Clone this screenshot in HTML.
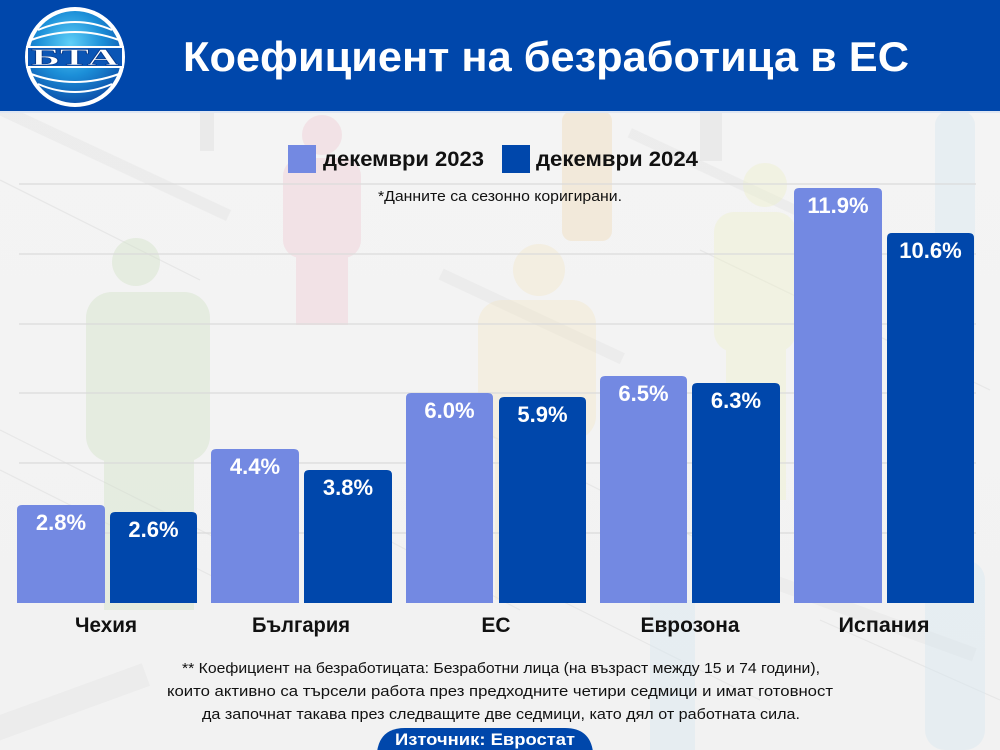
<!DOCTYPE html>
<html><head><meta charset="utf-8"><style>
html,body{margin:0;padding:0;background:#f3f3f3;}
svg{display:block;}
text{font-family:"Liberation Sans","Noto Sans CJK SC",sans-serif;}
</style></head><body>
<svg width="1000" height="750" viewBox="0 0 1000 750" xmlns="http://www.w3.org/2000/svg">
<defs>
<radialGradient id="lg" cx="0.45" cy="0.35" r="0.7">
<stop offset="0" stop-color="#5fd0f8"/><stop offset="0.5" stop-color="#1c8fd8"/><stop offset="1" stop-color="#0a4aa6"/>
</radialGradient>
<linearGradient id="bg" x1="0" y1="0" x2="0" y2="1">
<stop offset="0" stop-color="#f4f4f4"/><stop offset="1" stop-color="#f2f2f2"/>
</linearGradient>
</defs>
<rect x="0" y="0" width="1000" height="750" fill="url(#bg)"/>
<!-- faint newspaper texture -->
<g fill="#e8e8e8" opacity="0.6">
<rect x="-20" y="150" width="260" height="12" transform="rotate(25 100 160)"/>
<rect x="430" y="310" width="200" height="12" transform="rotate(25 530 320)"/>
<rect x="-10" y="690" width="160" height="24" transform="rotate(-20 70 700)"/>
<rect x="760" y="610" width="220" height="14" transform="rotate(20 870 620)"/>
<rect x="620" y="170" width="200" height="10" transform="rotate(25 720 176)"/>
</g>
<g stroke="#e4e4e4" stroke-width="1.2" fill="none" opacity="0.8">
<path d="M0 430 L260 560"/><path d="M0 470 L240 590"/><path d="M480 430 L700 540"/>
<path d="M560 600 L760 700"/><path d="M820 620 L1000 700"/><path d="M700 250 L990 390"/>
<path d="M0 180 L200 280"/><path d="M350 520 L520 610"/>
</g>
<!-- faint figures -->
<g opacity="0.4">
<g fill="#cfe0c4"><circle cx="136" cy="262" r="24"/><rect x="86" y="292" width="124" height="170" rx="26"/><rect x="104" y="440" width="90" height="170"/></g>
<g fill="#efc9d2"><circle cx="322" cy="135" r="20"/><rect x="283" y="158" width="78" height="100" rx="18"/><rect x="296" y="240" width="52" height="85"/></g>
<g fill="#f2e6c6"><circle cx="539" cy="270" r="26"/><rect x="478" y="300" width="118" height="140" rx="24"/><rect x="495" y="420" width="84" height="180"/></g>
<g fill="#eef0c8"><circle cx="765" cy="185" r="22"/><rect x="714" y="212" width="82" height="140" rx="20"/><rect x="726" y="340" width="60" height="160"/></g>
<g fill="#f0d9b5"><rect x="562" y="111" width="50" height="130" rx="10"/></g>
<g fill="#d4e6ef"><rect x="935" y="111" width="40" height="250" rx="14"/><rect x="650" y="600" width="45" height="150"/><rect x="925" y="560" width="60" height="190" rx="20"/></g>
<g fill="#dcdcdc"><rect x="700" y="111" width="22" height="50"/><rect x="200" y="111" width="14" height="40"/></g>
</g>
<!-- header -->
<rect x="0" y="0" width="1000" height="111" fill="#0047ab"/>
<rect x="0" y="111" width="1000" height="2" fill="#dfe6f2"/>
<!-- logo -->
<circle cx="75" cy="57" r="50" fill="#ffffff"/>
<circle cx="75" cy="57" r="46" fill="url(#lg)"/>
<g stroke="#ffffff" stroke-width="2" fill="none">
<path d="M38 30 Q75 14 112 30"/><path d="M31 40 Q75 24 119 40"/>
<path d="M31 74 Q75 90 119 74"/><path d="M38 84 Q75 100 112 84"/>
</g>
<rect x="27" y="47" width="96" height="20" fill="#0a55b5" stroke="#ffffff" stroke-width="2"/>
<text x="75" y="65" text-anchor="middle" font-weight="bold" font-size="23" fill="#ffffff" stroke="#0a3c8c" stroke-width="0.6" textLength="88" lengthAdjust="spacingAndGlyphs" style="font-family:'Liberation Serif',serif">БТА</text>
<!-- title -->
<text x="183" y="71" font-size="42" font-weight="bold" fill="#ffffff" textLength="726" lengthAdjust="spacingAndGlyphs">Коефициент на безработица в ЕС</text>
<!-- legend -->
<rect x="288" y="145" width="28" height="28" fill="#7389e2"/>
<text x="323" y="166" font-size="21" font-weight="bold" fill="#111" textLength="161" lengthAdjust="spacingAndGlyphs">декември 2023</text>
<rect x="502" y="145" width="28" height="28" fill="#0047ab"/>
<text x="536" y="166" font-size="21" font-weight="bold" fill="#111" textLength="162" lengthAdjust="spacingAndGlyphs">декември 2024</text>
<text x="378" y="201" font-size="15" fill="#111" textLength="244" lengthAdjust="spacingAndGlyphs">*Данните са сезонно коригирани.</text>
<!-- gridlines -->
<g stroke="#dadada" stroke-width="1.2">
<line x1="19" y1="184" x2="976" y2="184"/><line x1="19" y1="254" x2="976" y2="254"/>
<line x1="19" y1="324" x2="976" y2="324"/><line x1="19" y1="393" x2="976" y2="393"/>
<line x1="19" y1="463" x2="976" y2="463"/><line x1="19" y1="533" x2="976" y2="533"/>
</g>
<!-- bars -->
<g>
<path d="M17 603 V510 Q17 505 22 505 H100 Q105 505 105 510 V603 Z" fill="#7389e2"/>
<path d="M110 603 V517 Q110 512 115 512 H192 Q197 512 197 517 V603 Z" fill="#0047ab"/>
<path d="M211 603 V454 Q211 449 216 449 H294 Q299 449 299 454 V603 Z" fill="#7389e2"/>
<path d="M304 603 V475 Q304 470 309 470 H387 Q392 470 392 475 V603 Z" fill="#0047ab"/>
<path d="M406 603 V398 Q406 393 411 393 H488 Q493 393 493 398 V603 Z" fill="#7389e2"/>
<path d="M499 603 V402 Q499 397 504 397 H581 Q586 397 586 402 V603 Z" fill="#0047ab"/>
<path d="M600 603 V381 Q600 376 605 376 H682 Q687 376 687 381 V603 Z" fill="#7389e2"/>
<path d="M692 603 V388 Q692 383 697 383 H775 Q780 383 780 388 V603 Z" fill="#0047ab"/>
<path d="M794 603 V193 Q794 188 799 188 H877 Q882 188 882 193 V603 Z" fill="#7389e2"/>
<path d="M887 603 V238 Q887 233 892 233 H969 Q974 233 974 238 V603 Z" fill="#0047ab"/>
</g>
<g font-size="22" font-weight="bold" fill="#ffffff" text-anchor="middle">
<text x="61" y="530">2.8%</text>
<text x="153.5" y="537">2.6%</text>
<text x="255" y="474">4.4%</text>
<text x="348" y="495">3.8%</text>
<text x="449.5" y="418">6.0%</text>
<text x="542.5" y="422">5.9%</text>
<text x="643.5" y="401">6.5%</text>
<text x="736" y="408">6.3%</text>
<text x="838" y="213">11.9%</text>
<text x="930.5" y="258">10.6%</text>
</g>
<!-- categories -->
<g font-size="21" font-weight="bold" fill="#111" text-anchor="middle">
<text x="106" y="632" textLength="62" lengthAdjust="spacingAndGlyphs">Чехия</text>
<text x="301" y="632" textLength="98" lengthAdjust="spacingAndGlyphs">България</text>
<text x="496" y="632">ЕС</text>
<text x="690" y="632" textLength="99" lengthAdjust="spacingAndGlyphs">Еврозона</text>
<text x="884" y="632" textLength="91" lengthAdjust="spacingAndGlyphs">Испания</text>
</g>
<!-- footnote -->
<g font-size="15" fill="#111">
<text x="182" y="673" textLength="638" lengthAdjust="spacingAndGlyphs">** Коефициент на безработицата: Безработни лица (на възраст между 15 и 74 години),</text>
<text x="167" y="696" textLength="666" lengthAdjust="spacingAndGlyphs">които активно са търсели работа през предходните четири седмици и имат готовност</text>
<text x="202" y="719" textLength="598" lengthAdjust="spacingAndGlyphs">да започнат такава през следващите две седмици, като дял от работната сила.</text>
</g>
<path d="M377 752 Q380 728 405 728 H565 Q590 728 593 752 Z" fill="#0047ab"/>
<text x="395" y="745" font-size="17" font-weight="bold" fill="#ffffff" textLength="180" lengthAdjust="spacingAndGlyphs">Източник: Евростат</text>
</svg>
</body></html>
